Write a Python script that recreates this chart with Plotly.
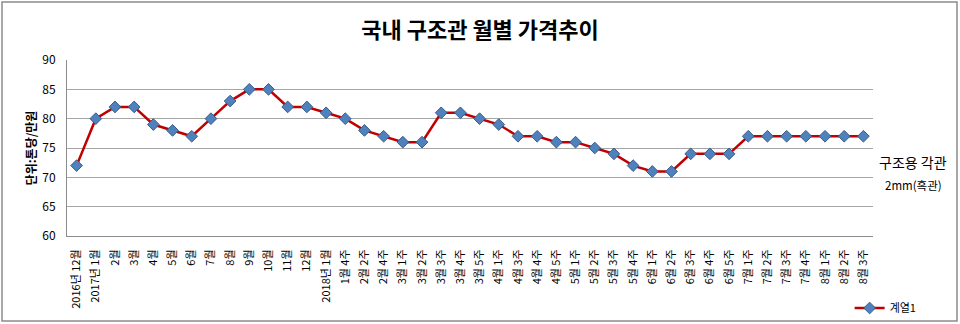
import plotly.graph_objects as go

# 기간 라벨 (월별 → 주별)
categories = [
    "2016년 12월", "2017년 1월", "2월", "3월", "4월", "5월", "6월", "7월", "8월",
    "9월", "10월", "11월", "12월", "2018년 1월",
    "1월 4주", "2월 2주", "2월 4주", "3월 1주", "3월 2주", "3월 3주", "3월 4주",
    "3월 5주", "4월 1주", "4월 3주", "4월 4주", "4월 5주", "5월 1주", "5월 2주",
    "5월 3주", "5월 4주", "6월 1주", "6월 2주", "6월 3주", "6월 4주", "6월 5주",
    "7월 1주", "7월 2주", "7월 3주", "7월 4주", "8월 1주", "8월 2주", "8월 3주",
]

# 구조용 각관 2mm(흑관) 가격 (톤당, 만원)
prices = [
    72, 80, 82, 82, 79, 78, 77, 80, 83, 85, 85, 82, 82, 81,
    80, 78, 77, 76, 76, 81, 81, 80, 79, 77, 77, 76, 76, 75,
    74, 72, 71, 71, 74, 74, 74, 77, 77, 77, 77, 77, 77, 77,
]

series_name = "계열1"
y_ticks = [60, 65, 70, 75, 80, 85, 90]

FONT = "Noto Sans CJK KR"

fig = go.Figure()
fig.add_trace(go.Scatter(
    x=categories,
    y=prices,
    name=series_name,
    mode="lines+markers",
    line=dict(color="#C00000", width=2.5),
    marker=dict(symbol="diamond", size=9, color="#4F81BD",
                line=dict(color="#385D8A", width=1)),
))

fig.update_layout(
    width=960,
    height=324,
    margin=dict(l=67, r=87, t=60, b=88, autoexpand=False),
    paper_bgcolor="white",
    plot_bgcolor="white",
    font=dict(family=FONT, color="#000000"),
    title=dict(
        text="<b>국내 구조관 월별 가격추이</b>",
        x=0.5, xanchor="center",
        y=1 - 30 / 324, yanchor="middle",
        font=dict(size=22, family=FONT, color="#000000"),
    ),
    showlegend=True,
    legend=dict(
        x=0.971, y=(236 - 308) / 176, xanchor="left", yanchor="middle",
        font=dict(size=11, family=FONT),
        bgcolor="rgba(0,0,0,0)",
        itemwidth=30,
    ),
    xaxis=dict(
        type="category",
        tickangle=-90,
        tickfont=dict(size=11, family=FONT),
        showgrid=False,
        showline=True,
        linecolor="#8C8C8C",
        linewidth=1,
        ticks="",
        ticklabelstandoff=8,
        automargin=False,
        range=[-0.5, len(categories) - 0.5],
        fixedrange=True,
    ),
    yaxis=dict(
        range=[60, 90],
        tickvals=y_ticks,
        tickfont=dict(size=12, family=FONT),
        showgrid=True,
        gridcolor="#A6A6A6",
        gridwidth=1,
        showline=True,
        linecolor="#8C8C8C",
        linewidth=1,
        ticks="",
        ticklabelstandoff=8,
        zeroline=False,
        automargin=False,
        title=dict(
            text="<b>단위:톤당/만원</b>",
            font=dict(size=12, family=FONT),
            standoff=3,
        ),
    ),
    shapes=[
        dict(type="rect", xref="paper", yref="paper",
             x0=-65 / 806, x1=1 + 84 / 806,
             y0=-85 / 176, y1=1 + 58 / 176,
             line=dict(color="#8C8C8C", width=1.5)),
    ],
    annotations=[
        dict(text="구조용 각관", xref="paper", yref="paper",
             x=1 + 40 / 806, y=(236 - 162) / 176,
             xanchor="center", yanchor="middle", showarrow=False,
             font=dict(size=14, family=FONT)),
        dict(text="2mm(흑관)", xref="paper", yref="paper",
             x=1 + 40 / 806, y=(236 - 185) / 176,
             xanchor="center", yanchor="middle", showarrow=False,
             font=dict(size=11.5, family=FONT)),
    ],
)

fig.write_html("out.html")
